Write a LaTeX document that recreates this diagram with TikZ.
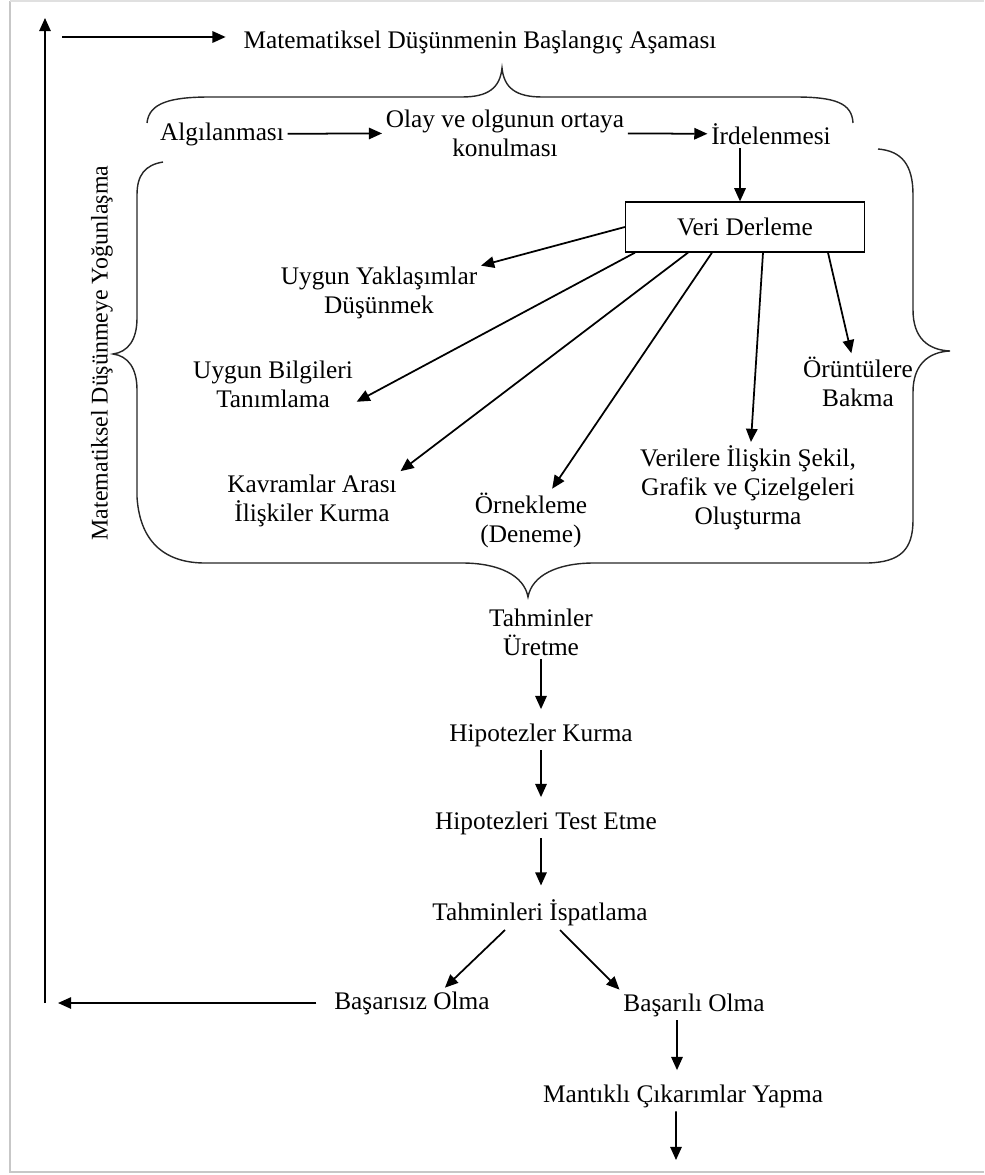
\documentclass[tikz,border=0pt]{standalone}
\usepackage{fontspec}
\setmainfont{Liberation Serif}
\usetikzlibrary{arrows.meta, positioning}

\begin{document}
\begin{tikzpicture}[
      x=0.02cm, y=-0.02cm,
      lbl/.style={align=center, font=\fontsize{14.4}{16.5}\selectfont, inner sep=2pt},
      kutu/.style={lbl, draw, line width=0.7pt, minimum width=4.78cm, minimum height=1cm},
      arr/.style={-{Triangle[length=7.5pt,width=6.5pt]}, line width=1pt},
      vert/.style={arr, shorten >=6pt},
      kivrik/.style={line width=0.8pt, draw=black!85},
      kenar/.style={line width=1.6pt, draw=black!22}
    ]
    \useasboundingbox (0,0) rectangle (984,1175);
    \draw[kenar] (10,1) -- (10,1172) -- (984,1172);
    \draw[line width=0.6pt, draw=black!12] (10,1) -- (984,1);

    \node[lbl] (baslik) at (480,42) {Matematiksel Düşünmenin Başlangıç Aşaması};
    \node[lbl] (alg)    at (222,134) {Algılanması};
    \node[lbl] (olay)   at (505,133) {Olay ve olgunun ortaya\\konulması};
    \node[lbl] (ird)    at (771,134) {İrdelenmesi};
    \node[kutu] (veri)  at (745,227) {Veri Derleme};

    \node[lbl] (yak)   at (379,293) {Uygun Yaklaşımlar\\Düşünmek};
    \node[lbl] (bil)   at (273,384) {Uygun Bilgileri\\Tanımlama};
    \node[lbl] (kav)   at (312,501) {Kavramlar Arası\\İlişkiler Kurma};
    \node[lbl] (ornek) at (531,520) {Örnekleme\\(Deneme)};
    \node[lbl] (ver)   at (748,488) {Verilere İlişkin Şekil,\\Grafik ve Çizelgeleri\\Oluşturma};
    \node[lbl] (oru)   at (858,382) {Örüntülere\\Bakma};

    \node[lbl, rotate=90, font=\fontsize{13.6}{15}\selectfont] (yogun) at (102,353) {Matematiksel Düşünmeye Yoğunlaşma};

    \node[lbl] (tah)        at (541,632) {Tahminler\\Üretme};
    \node[lbl] (hip)        at (541,735) {Hipotezler Kurma};
    \node[lbl] (test)       at (546,823) {Hipotezleri Test Etme};
    \node[lbl] (isp)        at (540,913) {Tahminleri İspatlama};
    \node[lbl] (basarisiz)  at (412,1003) {Başarısız Olma};
    \node[lbl] (basarili)   at (694,1005) {Başarılı Olma};
    \node[lbl] (mantikli)   at (683,1096) {Mantıklı Çıkarımlar Yapma};

    \coordinate (solalt) at (45,1003);
    \coordinate (solust) at (45,18);
    \coordinate (donus)  at (58,1003);
    \coordinate (bastan) at (62,37);
    \coordinate (son)    at (676,1160);

    % kivrik parantezler
    \draw[kivrik] (147,123) .. controls (149,103) and (170,97) .. (210,97) -- (462,97)
      .. controls (488,97) and (500,88) .. (502,68)
      .. controls (504,88) and (516,97) .. (542,97) -- (795,97)
      .. controls (835,97) and (852,103) .. (853,123);
    \draw[kivrik] (163,162) .. controls (145,165) and (137,175) .. (137,195) -- (137,318)
      .. controls (137,340) and (128,352) .. (113,354)
      .. controls (128,356) and (137,368) .. (137,390) -- (137,497)
      .. controls (140,545) and (168,563) .. (205,563) -- (462,563)
      .. controls (498,563) and (524,575) .. (528,597)
      .. controls (532,575) and (558,563) .. (594,563) -- (868,563)
      .. controls (900,562) and (913,550) .. (913,520) -- (913,392)
      .. controls (913,365) and (928,352) .. (950,351)
      .. controls (928,350) and (913,338) .. (913,310) -- (913,195)
      .. controls (913,165) and (902,151) .. (878,149);

    \draw[arr, shorten >=8pt] (bastan) -- (bastan -| baslik.west);
    \draw[arr] (solalt) -- (solust);
    \draw[arr] (alg) -- (olay);
    \draw[arr] (olay) -- (ird);
    \draw[arr] ([xshift=-0.62cm]ird.south) -- ([xshift=-0.62cm]ird.south |- veri.north);

    \draw[arr] (veri.west) -- (yak);
    \draw[arr] ([xshift=-2.2cm]veri.south) -- (bil.-12);
    \draw[arr] ([xshift=-1.14cm]veri.south) -- (kav.north east);
    \draw[arr] ([xshift=-0.66cm]veri.south) -- (ornek);
    \draw[arr] ([xshift=0.36cm]veri.south) -- (ver);
    \draw[arr] ([xshift=1.66cm]veri.south) -- (oru);

    \draw[vert] (tah.south) -- (tah.south |- hip.north);
    \draw[vert] (hip.south -| tah.south) -- (tah.south |- test.north);
    \draw[vert] (test.south -| tah.south) -- (tah.south |- isp.north);
    \draw[arr] ([xshift=-0.7cm]isp.south) -- (basarisiz.25);
    \draw[arr] ([xshift=0.4cm]isp.south) -- (basarili.north west);
    \draw[arr, shorten <=8pt] (basarisiz) -- (donus);
    \draw[vert] ([xshift=-0.34cm]basarili.south) -- ([xshift=-0.34cm]basarili.south |- mantikli.north);
    \draw[arr] ([xshift=-0.14cm]mantikli.south) -- (son);
  \end{tikzpicture}
\end{document}
